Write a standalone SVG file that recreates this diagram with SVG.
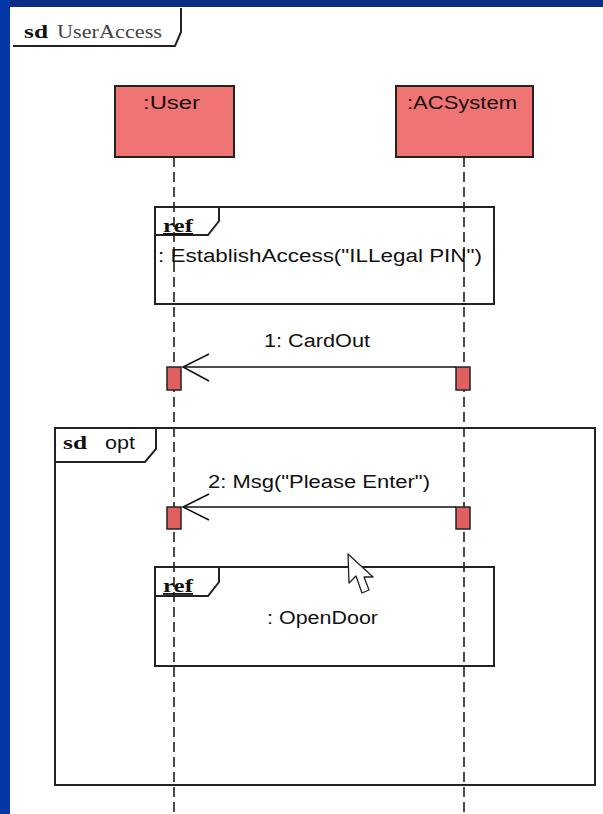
<svg xmlns="http://www.w3.org/2000/svg" width="603" height="814" viewBox="0 0 603 814">
<style>
.frame{fill:none;stroke:#222;stroke-width:2}
.life{stroke:#111;stroke-width:1.5;stroke-dasharray:10 5;fill:none}
.obj{fill:#f07474;stroke:#222;stroke-width:2}
.act{fill:#e06060;stroke:#222;stroke-width:1.5}
.msg{stroke:#111;stroke-width:1.5;fill:none}
.lbl{font-family:"Liberation Sans",Arial,sans-serif;font-size:18px;fill:#111}
.tagb{font-family:"Liberation Serif","Times New Roman",serif;font-size:18px;font-weight:bold;fill:#111}
.tag{font-family:"Liberation Serif","Times New Roman",serif;font-size:18px;fill:#444}
</style>
<rect x="0" y="0" width="603" height="814" fill="#ffffff"/>
<rect x="0" y="0" width="603" height="7" fill="#0a2d86"/>
<rect x="0" y="0" width="10" height="814" fill="#0536a6"/>

<g id="diagram-frame">
<polyline class="frame" points="13,46 175,46 181,32 181,8"/>
<text x="24" y="38" class="tagb" textLength="24" lengthAdjust="spacingAndGlyphs">sd</text>
<text x="57" y="38" class="tag" textLength="105" lengthAdjust="spacingAndGlyphs">UserAccess</text>
</g>

<g id="lifelines">
<line class="life" x1="174" y1="157" x2="174" y2="814"/>
<line class="life" x1="464" y1="157" x2="464" y2="814"/>
</g>

<g id="user">
<rect class="obj" x="115" y="86" width="119" height="71"/>
<text x="143" y="109" class="lbl" textLength="57" lengthAdjust="spacingAndGlyphs">:User</text>
</g>

<g id="acsystem">
<rect class="obj" x="396" y="86" width="137" height="71"/>
<text x="407" y="109" class="lbl" textLength="110" lengthAdjust="spacingAndGlyphs">:ACSystem</text>
</g>

<g id="ref-establish">
<rect class="frame" x="155" y="207" width="339" height="97"/>
<polyline class="frame" points="155,235 208,235 219,221 219,207"/>
<text x="163" y="232" class="tagb" text-decoration="underline" textLength="30" lengthAdjust="spacingAndGlyphs">ref</text>
<text x="158" y="262" class="lbl" textLength="324" lengthAdjust="spacingAndGlyphs">: EstablishAccess("ILLegal PIN")</text>
</g>

<g id="opt-frame">
<rect class="frame" x="55" y="428" width="540" height="357"/>
<polyline class="frame" points="55,462 145,462 156,449 156,428"/>
<text x="63" y="449" class="tagb" textLength="24" lengthAdjust="spacingAndGlyphs">sd</text>
<text x="105" y="449" class="lbl" textLength="30" lengthAdjust="spacingAndGlyphs">opt</text>
</g>

<g id="ref-opendoor">
<rect class="frame" x="155" y="567" width="339" height="99"/>
<polyline class="frame" points="155,596 208,596 219,582 219,567"/>
<text x="163" y="592" class="tagb" text-decoration="underline" textLength="30" lengthAdjust="spacingAndGlyphs">ref</text>
<text x="267" y="624" class="lbl" textLength="111" lengthAdjust="spacingAndGlyphs">: OpenDoor</text>
</g>

<g id="activations">
<rect class="act" x="167" y="367" width="14" height="23"/>
<rect class="act" x="456" y="367" width="14" height="23"/>
<rect class="act" x="167" y="507" width="14" height="22"/>
<rect class="act" x="456" y="507" width="14" height="22"/>
</g>

<g id="connectors">
<line class="msg" x1="456" y1="367" x2="183" y2="367"/>
<polyline class="msg" points="209,354 183,367 209,381"/>
<text x="264" y="347" class="lbl" textLength="106" lengthAdjust="spacingAndGlyphs">1: CardOut</text>
<line class="msg" x1="456" y1="507" x2="183" y2="507"/>
<polyline class="msg" points="209,494 183,507 209,520"/>
<text x="208" y="488" class="lbl" textLength="222" lengthAdjust="spacingAndGlyphs">2: Msg("Please Enter")</text>
</g>

<g id="cursor">
<path d="M348,554 L349,583 L356,576 L362,593 L369,590 L364,577 L373,577 Z" fill="#ffffff" stroke="#222" stroke-width="1.3" stroke-linejoin="round"/>
</g>
</svg>
